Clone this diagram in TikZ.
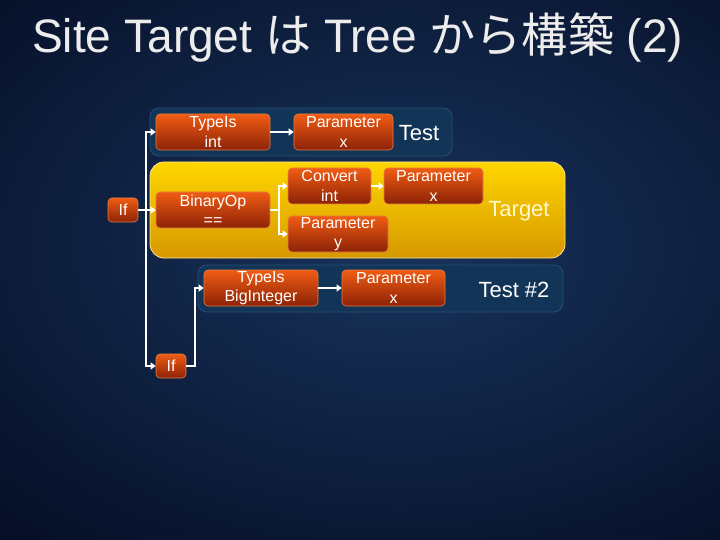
\documentclass[tikz,border=0pt]{standalone}
\usepackage{fontspec}
\setmainfont{Liberation Sans}
\newfontfamily\cjk{Noto Sans CJK JP}
\usetikzlibrary{arrows.meta}
\definecolor{bgdark}{RGB}{6,14,38}
\definecolor{bgmid}{RGB}{24,52,92}
\definecolor{panelblue}{RGB}{18,52,86}
\definecolor{paneledge}{RGB}{40,80,118}
\definecolor{goldtop}{RGB}{255,214,0}
\definecolor{goldbot}{RGB}{214,152,0}
\definecolor{optop}{RGB}{240,92,20}
\definecolor{opbot}{RGB}{140,34,6}
\definecolor{opedge}{RGB}{226,128,70}
\begin{document}
\begin{tikzpicture}[x=1pt, y=-1pt,
  op/.style={rounded corners=4pt, draw=opedge, line width=0.6pt, top color=optop, bottom color=opbot,
    text=white, align=center, inner sep=0pt, minimum height=36pt, font=\fontsize{16}{19.5}\selectfont},
  small op/.style={op, minimum width=30pt, minimum height=24pt},
  panel/.style={rounded corners=9pt, fill=panelblue, draw=paneledge, line width=0.8pt},
  goldpanel/.style={rounded corners=14pt, top color=goldtop, bottom color=goldbot, draw={rgb,255:red,250;green,228;blue,150}, line width=0.8pt},
  tag/.style={text=white, font=\fontsize{22}{24}\selectfont},
  flow/.style={white, line width=2.2pt, -{Triangle[length=5pt, width=7pt]}}]
  % background
  \useasboundingbox (0,0) rectangle (720,540);
  \fill[bgdark] (0,0) rectangle (720,540);
  \shade[inner color=bgmid, outer color=bgdark] (-200,-150) rectangle (1000,640);
  % title
  \node[anchor=base west, text=gray!15, font=\fontsize{47}{50}\selectfont, inner sep=0pt] (title) at (32,53)
    {\scalebox{0.98}[1]{Site Target {\cjk は} Tree {\cjk から構築} (2)}};
  % panels
  \draw[panel] (150,108) rectangle (452,156);
  \draw[goldpanel] (150,162) rectangle (565,258);
  \draw[panel] (198,265) rectangle (563,312);
  % tree nodes
  \node[small op] (if1) at (123,210) {If};
  \node[op, minimum width=114pt] (typeint) at (213,132) {TypeIs\\int};
  \node[op, minimum width=99pt] (parx1) at (343.5,132) {Parameter\\x};
  \node[op, minimum width=114pt] (binop) at (213,210) {BinaryOp\\==};
  \node[op, minimum width=83pt] (convint) at (329.5,186) {Convert\\int};
  \node[op, minimum width=99pt] (parx2) at (433.5,186) {Parameter\\x};
  \node[op, minimum width=100pt] (pary) at (338,234) {Parameter\\y};
  \node[op, minimum width=114pt] (typebig) at (261,288) {TypeIs\\BigInteger};
  \node[op, minimum width=103pt] (parx3) at (393.5,288) {Parameter\\x};
  \node[small op] (if2) at (171,366) {If};
  % panel labels
  \node[tag] (test) at (419,133) {Test};
  \node[tag, text={rgb,255:red,255;green,250;blue,205}] (target) at (519,211) {Target};
  \node[tag] (test2) at (514,290) {Test \#2};
  % connectors
  \draw[flow] (if1.east) -- (binop.west);
  \draw[flow] (if1.east) -- ++(8,0) |- (typeint.west);
  \draw[flow] (if1.east) -- ++(8,0) |- (if2.west);
  \draw[flow] (typeint) -- (parx1);
  \draw[flow] (binop.east) -- ++(9,0) |- (convint.west);
  \draw[flow] (binop.east) -- ++(9,0) |- (pary.west);
  \draw[flow] (convint) -- (parx2);
  \draw[flow] (if2.east) -- ++(9,0) |- (typebig.west);
  \draw[flow] (typebig) -- (parx3);
\end{tikzpicture}
\end{document}
